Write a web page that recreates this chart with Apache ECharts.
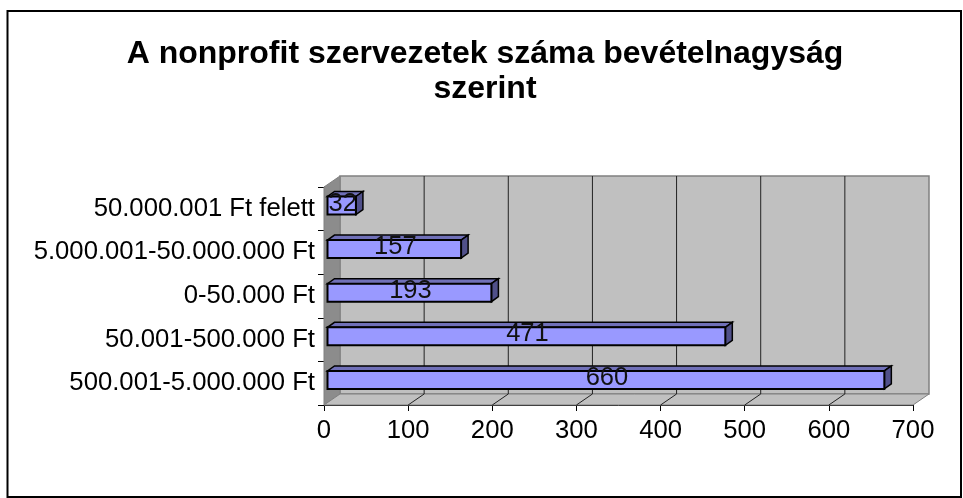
<!DOCTYPE html>
<html lang="en">
<head>
<meta charset="UTF-8" />
<title>A nonprofit szervezetek száma</title>
<style>
  html, body { margin: 0; padding: 0; background: #fff; }
  #main { width: 963px; height: 498px; }
</style>
</head>
<body>
<div id="main"></div>
<script src="https://cdn.jsdelivr.net/npm/echarts@6/dist/echarts.min.js"></script>
<script>
  // bottom to top, as in the picture
  var categories = ["500.001-5.000.000 Ft", "50.001-500.000 Ft", "0-50.000 Ft", "5.000.001-50.000.000 Ft", "50.000.001 Ft felett"];
  var values = [660, 471, 193, 157, 32];
  var xTicks = [0, 100, 200, 300, 400, 500, 600, 700];
  var titleText = "A nonprofit szervezetek száma bevételnagyság\nszerint";

  var myChart = echarts.init(document.getElementById("main"));

  // fake 3d depth of the plot box and of the bars
  var wallDx = 16, wallDy = -11;
  var barDx = 7, barDy = -5, barStartX = 3.5, barEndX = 5, barShiftY = -3.3, barH = 18;

  function poly(points, fill, stroke, lw) {
    return { type: "polygon", shape: { points: points }, style: { fill: fill, stroke: stroke, lineWidth: lw || 1 } };
  }
  function line(a, b, color, lw) {
    return { type: "line", shape: { x1: a[0], y1: a[1], x2: b[0], y2: b[1] }, style: { stroke: color, lineWidth: lw || 1 } };
  }

  // walls, floor and grid lines behind the bars
  function renderBox(params, api) {
    // category coords get rounded by api.coord, so take the edges from the grid rect
    var rect = params.coordSys;
    var top = rect.y, bottom = rect.y + rect.height;
    var left = api.coord([0, 0])[0], right = api.coord([700, 0])[0];
    var bl = [left, bottom], tl = [left, top], br = [right, bottom], tr = [right, top];
    var back = function (p) { return [p[0] + wallDx, p[1] + wallDy]; };
    var kids = [
      poly([back(tl), back(tr), back(br), back(bl)], "#c0c0c0", "#808080", 1.5),
      poly([bl, tl, back(tl), back(bl)], "#8c8c8c", "#808080", 1),
      poly([bl, br, back(br), back(bl)], "#c0c0c0", "#808080", 1)
    ];
    xTicks.forEach(function (v) {
      if (v > 0 && v < 700) {
        var x = api.coord([v, 0])[0];
        kids.push(line(back([x, bottom]), back([x, top]), "#222", 1));
        kids.push(line([x, bottom], back([x, bottom]), "#222", 1));
      }
    });
    return { type: "group", children: kids };
  }

  function renderBar(params, api) {
    var base = api.coord([0, api.value(1)]);
    var end = api.coord([api.value(0), api.value(1)]);
    var x0 = base[0] + barStartX, x1 = end[0] + barEndX;
    var y0 = base[1] + barShiftY - barH / 2, y1 = y0 + barH;
    return {
      type: "group",
      children: [
        poly([[x0, y0], [x1, y0], [x1 + barDx, y0 + barDy], [x0 + barDx, y0 + barDy]], "#7070b8", "#000", 1.5),
        poly([[x1, y0], [x1 + barDx, y0 + barDy], [x1 + barDx, y1 + barDy], [x1, y1]], "#50508a", "#000", 1.5),
        poly([[x0, y0], [x1, y0], [x1, y1], [x0, y1]], "#9999ff", "#000", 2),
        {
          type: "text",
          z2: 10,
          style: {
            x: (x0 + x1) / 2 + 1, y: y0 + barH / 2 - 2,
            text: String(api.value(0)),
            align: "center", verticalAlign: "middle",
            font: "25.5px 'Liberation Sans'", fill: "#111"
          }
        }
      ]
    };
  }

  var option = {
    animation: false,
    backgroundColor: "#fff",
    title: {
      text: titleText,
      left: 480, top: 32, textAlign: "center",
      textStyle: { fontFamily: "Liberation Sans", fontSize: 32, fontWeight: "bold", color: "#000", lineHeight: 35 }
    },
    grid: { left: 324, top: 187, width: 589, height: 218, containLabel: false },
    xAxis: {
      type: "value", min: 0, max: 700, interval: 100,
      axisLine: { show: true, onZero: false, lineStyle: { color: "#000", width: 1 } },
      axisTick: { show: true, length: 6, lineStyle: { color: "#000" } },
      splitLine: { show: false },
      axisLabel: { fontFamily: "Liberation Sans", fontSize: 25.7, color: "#000", margin: 13 }
    },
    yAxis: {
      type: "category", data: categories,
      axisLine: { show: true, lineStyle: { color: "#000", width: 1 } },
      axisTick: { show: true, length: 6, lineStyle: { color: "#000" } },
      splitLine: { show: false },
      axisLabel: { fontFamily: "Liberation Sans", fontSize: 25.7, color: "#000", margin: 9, interval: 0 }
    },
    graphic: [{
      type: "rect", silent: true, z: -1,
      shape: { x: 7.5, y: 11, width: 953.5, height: 486 },
      style: { fill: "none", stroke: "#000", lineWidth: 2 }
    }],
    series: [
      { type: "custom", silent: true, z: 1, clip: false, renderItem: renderBox, data: [[0, 0]], encode: { x: 0, y: 1 } },
      {
        type: "custom", silent: true, z: 3, clip: false, renderItem: renderBar,
        data: values.map(function (v, i) { return [v, i]; }),
        encode: { x: 0, y: 1 }
      }
    ]
  };
  myChart.setOption(option);
</script>
</body>
</html>
